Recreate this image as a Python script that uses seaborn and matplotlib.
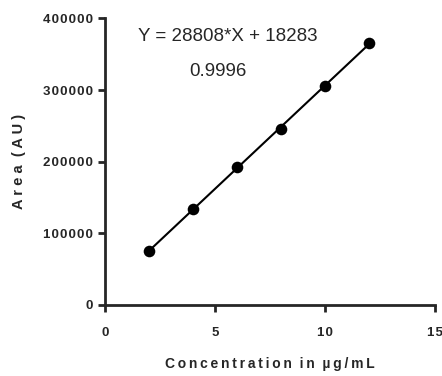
import matplotlib
matplotlib.use("Agg")
import matplotlib.pyplot as plt
import matplotlib.ticker as mticker
import seaborn as sns
import pandas as pd

# calibration data
conc = [2, 4, 6, 8, 10, 12]
area = [75500, 134000, 192000, 246000, 305000, 366000]
equation = "Y = 28808*X + 18283"
r_squared = "0.9996"

df = pd.DataFrame({"Concentration": conc, "Area": area})

sns.set_style("ticks")
plt.rcParams["font.family"] = ["Liberation Sans", "DejaVu Sans"]

fig = plt.figure(figsize=(4.42, 3.76), dpi=100)
ax = fig.add_axes([0.2376, 0.189, 0.7464, 0.762])

sns.regplot(data=df, x="Concentration", y="Area", ax=ax, ci=None, truncate=True,
            color="black",
            scatter_kws={"s": 70, "alpha": 1, "linewidths": 0},
            line_kws={"lw": 1.5})

ax.set_xlim(0, 15)
ax.set_ylim(0, 400000)
ax.set_xticks([0, 5, 10, 15])
ax.set_yticks([0, 100000, 200000, 300000, 400000])

spaced = mticker.FuncFormatter(lambda v, p: "\u200a".join(str(int(v))))
ax.xaxis.set_major_formatter(spaced)
ax.yaxis.set_major_formatter(spaced)

sns.despine(ax=ax)
for s in ("left", "bottom"):
    ax.spines[s].set_linewidth(2)
    ax.spines[s].set_clip_on(False)
ax.tick_params(width=2, length=5, labelsize=9.5, pad=4)
for lab in ax.get_xticklabels() + ax.get_yticklabels():
    lab.set_fontweight("bold")
ax.tick_params(axis="x", pad=11)

th = "\u2009"
ax.set_xlabel(th.join("Concentration") + "  " + th.join("in") + "  " + th.join("µg/mL"),
              fontsize=10, fontweight="bold", labelpad=13)
ax.set_ylabel("A r e a  ( A U )", fontsize=10.5, fontweight="bold", labelpad=12)

ax.text(5.6, 375000, equation, fontsize=13.5, ha="center", va="center")
ax.text(5.15, 326000, r_squared, fontsize=13.5, ha="center", va="center")

fig.savefig("out.png", dpi=100)
